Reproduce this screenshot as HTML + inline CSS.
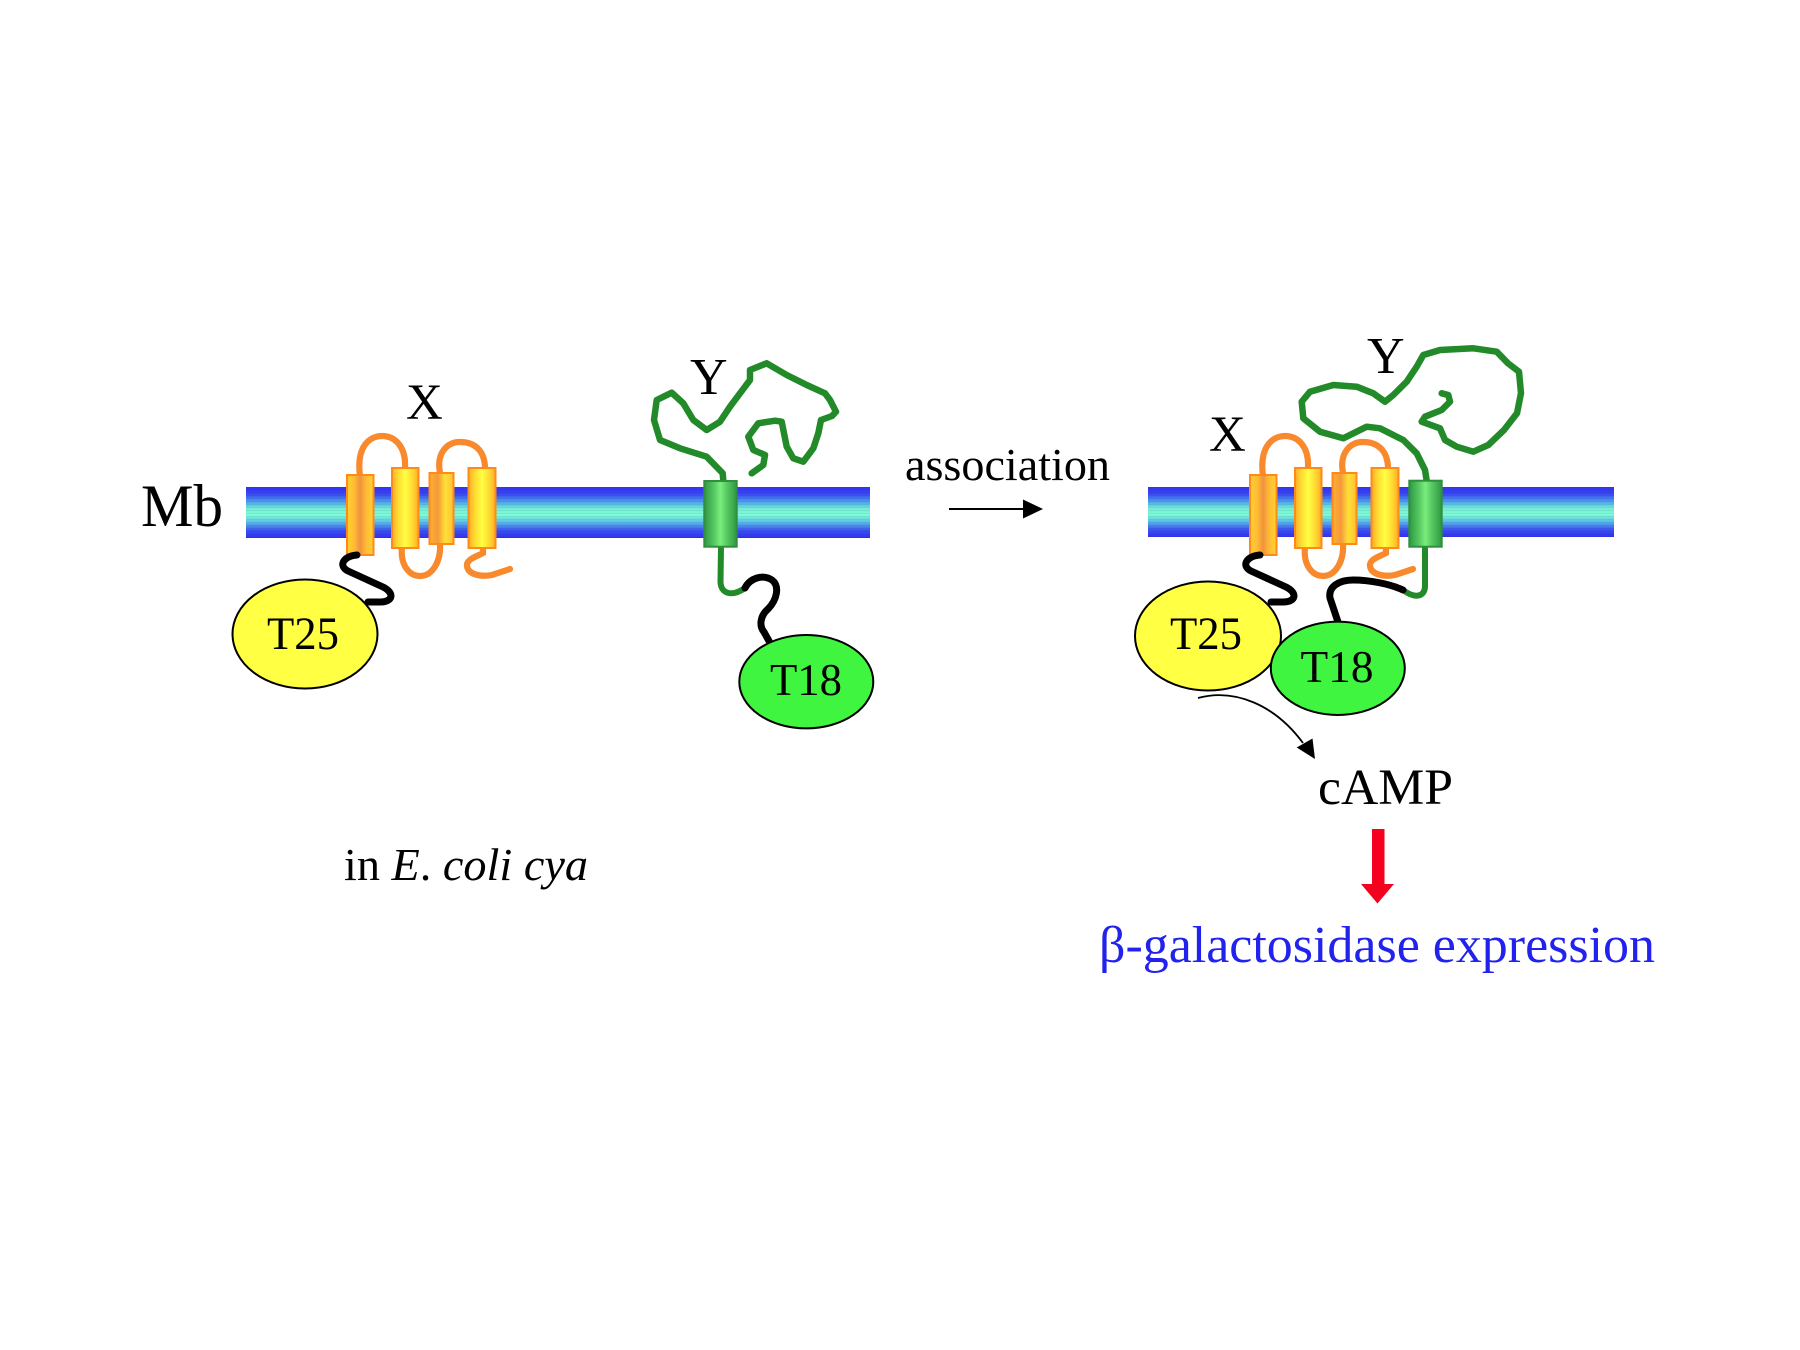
<!DOCTYPE html>
<html>
<head>
<meta charset="utf-8">
<style>
  html, body { margin: 0; padding: 0; background: #ffffff; }
  svg { display: block; }
  text { font-family: "Liberation Serif", "Times New Roman", serif; }
</style>
</head>
<body>
<svg width="1800" height="1350" viewBox="0 0 1800 1350" xmlns="http://www.w3.org/2000/svg">
  <defs>
    <linearGradient id="mem" x1="0" y1="0" x2="0" y2="1">
      <stop offset="0" stop-color="#3232f2"/>
      <stop offset="0.14" stop-color="#3a48f0"/>
      <stop offset="0.30" stop-color="#4fa6ea"/>
      <stop offset="0.42" stop-color="#74ecd6"/>
      <stop offset="0.55" stop-color="#80fcd6"/>
      <stop offset="0.68" stop-color="#5cc4e6"/>
      <stop offset="0.85" stop-color="#3c52f0"/>
      <stop offset="1" stop-color="#3030f0"/>
    </linearGradient>
    <pattern id="stripes" width="4" height="3" patternUnits="userSpaceOnUse">
      <rect x="0" y="0" width="4" height="1" fill="#000050" fill-opacity="0.06"/>
    </pattern>
    <linearGradient id="gY" x1="0" y1="0" x2="1" y2="0">
      <stop offset="0" stop-color="#ffab26"/>
      <stop offset="0.22" stop-color="#ffd832"/>
      <stop offset="0.5" stop-color="#ffff42"/>
      <stop offset="0.78" stop-color="#ffd832"/>
      <stop offset="1" stop-color="#ffab26"/>
    </linearGradient>
    <linearGradient id="gO" x1="0" y1="0" x2="1" y2="0">
      <stop offset="0" stop-color="#ffd230"/>
      <stop offset="0.28" stop-color="#ffbb34"/>
      <stop offset="0.5" stop-color="#f0923e"/>
      <stop offset="0.72" stop-color="#ffbb34"/>
      <stop offset="1" stop-color="#ffd230"/>
    </linearGradient>
    <linearGradient id="gO2" x1="0" y1="0" x2="1" y2="0">
      <stop offset="0" stop-color="#ffb030"/>
      <stop offset="0.35" stop-color="#f5983a"/>
      <stop offset="0.65" stop-color="#ffe038"/>
      <stop offset="1" stop-color="#ffc030"/>
    </linearGradient>
    <linearGradient id="gG" x1="0" y1="0" x2="1" y2="0">
      <stop offset="0" stop-color="#2f9a42"/>
      <stop offset="0.3" stop-color="#56c862"/>
      <stop offset="0.5" stop-color="#7aee7c"/>
      <stop offset="0.7" stop-color="#56c862"/>
      <stop offset="1" stop-color="#2f9a42"/>
    </linearGradient>
  </defs>

  <rect x="0" y="0" width="1800" height="1350" fill="#ffffff"/>

  <!-- ================= LEFT ================= -->
  <rect x="246" y="487" width="624" height="51" fill="url(#mem)"/>
  <rect x="246" y="487" width="624" height="51" fill="url(#stripes)"/>

  <text x="141" y="526" font-size="60" textLength="82" lengthAdjust="spacingAndGlyphs">Mb</text>

  <!-- X protein (left) -->
  <g fill="none" stroke="#f8892c" stroke-width="6.2" stroke-linecap="round">
    <path d="M360,476 C356,446 370,436 382,436 C396,436 406,448 405,467"/>
    <path d="M402,547 C400,566 410,576 420,576 C432,576 441,562 440,544"/>
    <path d="M440,473 C436,452 448,442 460,442 C476,442 486,452 485,472"/>
    <path d="M483,547 L483,553 C478,556 466,559 467,566 C468,575 482,577 492,575 L510,569"/>
  </g>
  <g stroke="#ff8a1c" stroke-width="2">
    <rect x="347" y="475" width="26.5" height="80" fill="url(#gO)"/>
    <rect x="392" y="468" width="26.5" height="80" fill="url(#gY)"/>
    <rect x="429.5" y="473" width="24" height="71" fill="url(#gO2)"/>
    <rect x="468.5" y="468" width="27" height="80" fill="url(#gY)"/>
  </g>
  <text x="406" y="419" font-size="51">X</text>

  <!-- T25 linker (left) -->
  <path d="M357,555 C343,556 338,566 348,571 L383,587 C395,593 393,602 380,602 L368,602" fill="none" stroke="#000" stroke-width="7" stroke-linecap="round" stroke-linejoin="round"/>
  <ellipse cx="305" cy="634" rx="72.5" ry="54.5" fill="#ffff44" stroke="#000" stroke-width="2"/>
  <text x="303" y="649" font-size="47" text-anchor="middle" textLength="72" lengthAdjust="spacingAndGlyphs">T25</text>

  <!-- Y protein (left) -->
  <polyline fill="none" stroke="#238a2a" stroke-width="6.5" stroke-linejoin="round" stroke-linecap="round"
    points="723.3,481 722.7,473.3 706.7,456.7 680,448.3 660,440 654,420 656.7,400 671.7,392.7 683.3,403.3 693.3,420 706.7,430 720,421.7 730,406.7 740,393.3 750,380 750,370 766.7,363.3 786.7,375 806.7,385 825,393.3 830,400 836,411.7 832,416 821,420 818.3,433.3 813.3,448.3 803.3,461.7 793.3,458.3 786.7,446.7 781.7,421.7 775,420.7 758.3,423.3 748.3,436.7 753.3,450 765,455 763.3,465 751.7,473.3"/>
  <path d="M721,547 L720.5,582 C721,594 732,597 745,588" fill="none" stroke="#238a2a" stroke-width="6" stroke-linecap="round"/>
  <rect x="704.3" y="481" width="32.4" height="65.7" fill="url(#gG)" stroke="#2f8f3f" stroke-width="2"/>
  <text x="690" y="394" font-size="52">Y</text>

  <!-- T18 linker (left) -->
  <path d="M745,588 C750,578 763,574 772,580 C780,586 777,600 768,609 C760,616 759,626 764,632 L769,641" fill="none" stroke="#000" stroke-width="7" stroke-linecap="round" stroke-linejoin="round"/>
  <ellipse cx="806.3" cy="681.7" rx="67" ry="46.7" fill="#40f540" stroke="#000" stroke-width="2"/>
  <text x="806" y="695" font-size="46" text-anchor="middle" textLength="72" lengthAdjust="spacingAndGlyphs">T18</text>

  <!-- in E. coli cya -->
  <text x="344" y="880" font-size="46" textLength="244" lengthAdjust="spacingAndGlyphs">in <tspan font-style="italic">E</tspan>. <tspan font-style="italic">coli cya</tspan></text>

  <!-- association arrow -->
  <text x="905" y="480" font-size="46" textLength="205" lengthAdjust="spacingAndGlyphs">association</text>
  <line x1="949" y1="509" x2="1026" y2="509" stroke="#000" stroke-width="2"/>
  <polygon points="1043,509 1023,499.5 1023,518.5" fill="#000"/>

  <!-- ================= RIGHT ================= -->
  <rect x="1148" y="487" width="466" height="50" fill="url(#mem)"/>
  <rect x="1148" y="487" width="466" height="50" fill="url(#stripes)"/>

  <polyline fill="none" stroke="#238a2a" stroke-width="6.5" stroke-linejoin="round" stroke-linecap="round"
    points="1426.7,480.7 1425,470 1416.7,453.3 1403.3,440 1380,428.3 1366.7,426.7 1343.3,438.3 1320,431.7 1303.3,418.3 1301.7,401.7 1310,391.7 1333.3,385 1356.7,386.7 1373.3,393.3 1385,401.7 1393.3,395 1406.7,381.7 1416.7,366.7 1423.3,355 1440,350 1473.3,348.3 1496.7,351.7 1508,363.3 1519,371.7 1521,393.3 1517,413.3 1504,430 1488.3,445 1473.3,451.7 1456.7,446.7 1445,440 1440,428.3 1421.7,421.7 1425,416.7 1441.7,410 1450,401.7 1448.3,395 1441.7,393.3"/>
  <path d="M1425,547 L1425,586 C1425,597 1415,599 1403,590" fill="none" stroke="#238a2a" stroke-width="6" stroke-linecap="round"/>

  <g transform="translate(903,0)">
    <g fill="none" stroke="#f8892c" stroke-width="6.2" stroke-linecap="round">
      <path d="M360,476 C356,446 370,436 382,436 C396,436 406,448 405,467"/>
      <path d="M402,547 C400,566 410,576 420,576 C432,576 441,562 440,544"/>
      <path d="M440,473 C436,452 448,442 460,442 C476,442 486,452 485,472"/>
      <path d="M483,547 L483,553 C478,556 466,559 467,566 C468,575 482,577 492,575 L510,569"/>
    </g>
    <g stroke="#ff8a1c" stroke-width="2">
      <rect x="347" y="475" width="26.5" height="80" fill="url(#gO)"/>
      <rect x="392" y="468" width="26.5" height="80" fill="url(#gY)"/>
      <rect x="429.5" y="473" width="24" height="71" fill="url(#gO2)"/>
      <rect x="468.5" y="468" width="27" height="80" fill="url(#gY)"/>
    </g>
    <path d="M357,555 C343,556 338,566 348,571 L383,587 C395,593 393,602 380,602 L368,602" fill="none" stroke="#000" stroke-width="7" stroke-linecap="round" stroke-linejoin="round"/>
  </g>
  <rect x="1409.3" y="480.7" width="32.4" height="66" fill="url(#gG)" stroke="#2f8f3f" stroke-width="2"/>

  <text x="1209" y="451" font-size="51">X</text>
  <text x="1367" y="373" font-size="52">Y</text>

  <path d="M1403,590 C1390,584 1370,580 1353,580 C1340,580 1328,586 1330,598 L1338,622" fill="none" stroke="#000" stroke-width="7" stroke-linecap="round" stroke-linejoin="round"/>

  <ellipse cx="1208" cy="636" rx="73" ry="54.5" fill="#ffff44" stroke="#000" stroke-width="2"/>
  <text x="1206" y="649" font-size="47" text-anchor="middle" textLength="72" lengthAdjust="spacingAndGlyphs">T25</text>
  <ellipse cx="1337.8" cy="668.3" rx="67" ry="46.7" fill="#40f540" stroke="#000" stroke-width="2"/>
  <text x="1337" y="682" font-size="46" text-anchor="middle" textLength="73" lengthAdjust="spacingAndGlyphs">T18</text>

  <path d="M1198,698 C1235,688 1275,705 1303,743" fill="none" stroke="#000" stroke-width="1.8"/>
  <polygon points="1315,759 1296.7,747.5 1312.5,738.5" fill="#000"/>

  <text x="1318" y="804" font-size="51" textLength="135" lengthAdjust="spacingAndGlyphs">cAMP</text>

  <rect x="1372" y="829" width="12.5" height="57" fill="#f5001e"/>
  <polygon points="1361,884 1394,884 1377.5,903.5" fill="#f5001e"/>

  <text x="1099" y="962" font-size="52" fill="#2222ee" textLength="556" lengthAdjust="spacingAndGlyphs">β-galactosidase expression</text>
</svg>
</body>
</html>
